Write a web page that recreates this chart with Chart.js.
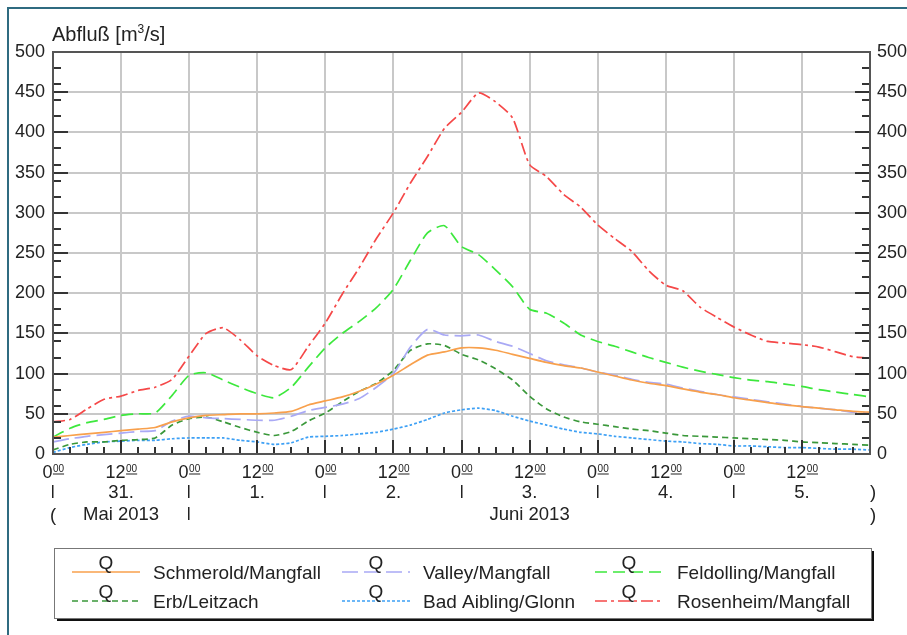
<!DOCTYPE html>
<html>
<head>
<meta charset="utf-8">
<title>Abfluss Mangfall Juni 2013</title>
<script src="https://cdn.jsdelivr.net/npm/chart.js@4.4.0/dist/chart.umd.min.js"></script>
<style>
  html, body { margin: 0; padding: 0; background: #fff; }
  canvas { display: block; }
</style>
</head>
<body>
<canvas id="flowChart" width="907" height="635"></canvas>
<script>
// hours since 31.05.2013 0:00, every 3 hours
const hours = [0,3,6,9,12,15,18,21,24,27,30,33,36,39,42,45,48,51,54,57,60,63,66,69,72,75,78,81,84,87,90,93,96,99,102,105,108,111,114,117,120,123,126,129,132,135,138,141,144];

const schmerold = [21,23,25,27,29,31,33,40,45,48,49,50,50,51,53,61,66,71,78,87,98,111,123,127,132,132,129,124,119,114,110,107,102,97,92,88,85,81,77,74,70,67,64,61,59,57,55,53,52];
const valley = [15,19,22,24,26,28,29,41,47,45,44,43,42,42,47,54,58,62,69,83,100,133,155,148,147,148,140,134,125,116,111,107,102,98,93,89,87,82,78,74,71,68,65,62,59,57,55,52,51];
const feldolling = [21,32,39,43,48,50,51,73,98,101,92,83,75,70,83,108,132,150,165,182,205,241,275,284,258,248,229,208,180,175,163,148,140,134,127,120,114,108,103,99,95,92,90,87,84,80,77,74,71];
const erb = [5,12,15,15,17,18,20,36,44,46,40,33,27,23,28,41,51,65,78,88,104,129,137,135,124,117,106,92,72,56,46,40,37,34,31,29,26,23,22,21,20,19,18,17,15,14,13,12,11];
const badAibling = [2,8,12,15,16,17,17,19,20,20,20,17,15,12,14,21,22,23,25,27,31,36,43,51,55,57,54,47,41,36,31,27,25,22,20,18,16,15,13,12,10,10,9,8,8,7,6,6,5];
const rosenheim = [40,43,56,68,72,79,83,93,122,150,157,142,122,110,105,134,163,199,232,268,300,337,370,405,425,449,438,418,360,345,323,307,285,268,252,228,210,203,183,170,158,148,140,138,136,133,127,121,119];

const seriesNames = ['Schmerold/Mangfall', 'Valley/Mangfall', 'Feldolling/Mangfall', 'Erb/Leitzach', 'Bad Aibling/Glonn', 'Rosenheim/Mangfall'];

// x axis text rows
const hourTicks = [0, 12, 24, 36, 48, 60, 72, 84, 96, 108, 120, 132];
const hourLabels = ['0', '12', '0', '12', '0', '12', '0', '12', '0', '12', '0', '12'];
const dayTicks = [12, 36, 60, 84, 108, 132];
const dayLabels = ['31.', '1.', '2.', '3.', '4.', '5.'];
const monthLabels = ['Mai 2013', 'Juni 2013'];
const monthSpans = [[0, 24], [24, 144]];

const FONT = '"Liberation Sans", Arial, sans-serif';

function toPoints(values) {
    return values.map((v, i) => ({ x: hours[i], y: v }));
}

function makeSet(label, values, color, dash) {
    return {
        label: label,
        data: toPoints(values),
        borderColor: color,
        borderWidth: 1.7,
        borderDash: dash,
        pointRadius: 0,
        fill: false,
        tension: 0.2
    };
}

const datasets = [
    makeSet(seriesNames[0], schmerold, '#f8a04c', []),
    makeSet(seriesNames[1], valley, '#a9a9f5', [16, 6]),
    makeSet(seriesNames[2], feldolling, '#3de83d', [12, 6]),
    makeSet(seriesNames[3], erb, '#3a983a', [6, 4]),
    makeSet(seriesNames[4], badAibling, '#3da0f5', [3, 2]),
    makeSet(seriesNames[5], rosenheim, '#f54848', [12, 4, 3, 4])
];

// ticks, axis text, title, legend and frame
const decorPlugin = {
    id: 'decor',
    afterDraw(chart) {
        const ctx = chart.ctx;
        const xs = chart.scales.x;
        const ys = chart.scales.y;
        const area = chart.chartArea;
        ctx.save();

        // inward tick marks: x every 3 h, y every 20 plus the 50 steps
        ctx.strokeStyle = '#333';
        ctx.lineWidth = 2;
        ctx.beginPath();
        for (let h = 0; h <= 144; h += 3) {
            const px = Math.round(xs.getPixelForValue(h));
            const len = h % 12 === 0 ? 14 : 7;
            ctx.moveTo(px, area.bottom);
            ctx.lineTo(px, area.bottom - len);
        }
        for (let v = 0; v <= 500; v += 10) {
            if (v % 20 !== 0 && v % 50 !== 0) continue;
            const py = Math.round(ys.getPixelForValue(v));
            const len = v % 50 === 0 ? 15 : 8;
            ctx.moveTo(area.left, py);
            ctx.lineTo(area.left + len, py);
            ctx.moveTo(area.right, py);
            ctx.lineTo(area.right - len, py);
        }
        ctx.stroke();

        // plot border
        ctx.strokeStyle = '#555';
        ctx.lineWidth = 2;
        ctx.strokeRect(area.left, area.top, area.right - area.left, area.bottom - area.top);

        ctx.fillStyle = '#222';
        ctx.textBaseline = 'alphabetic';

        // hour labels with underlined superscript 00
        hourTicks.forEach((h, i) => {
            const px = xs.getPixelForValue(h);
            ctx.font = '18px ' + FONT;
            const mw = ctx.measureText(hourLabels[i]).width;
            ctx.font = '10px ' + FONT;
            const sw = ctx.measureText('00').width;
            const x0 = px - (mw + sw) / 2;
            ctx.font = '18px ' + FONT;
            ctx.textAlign = 'left';
            ctx.fillText(hourLabels[i], x0, 478);
            ctx.font = '10px ' + FONT;
            ctx.fillText('00', x0 + mw + 0.5, 472);
            ctx.fillRect(x0 + mw + 0.5, 473.5, sw, 1);
        });

        // day row
        ctx.font = '18.5px ' + FONT;
        ctx.textAlign = 'center';
        dayTicks.forEach((h, i) => {
            ctx.fillText(dayLabels[i], xs.getPixelForValue(h), 498);
        });
        for (let h = 0; h <= 120; h += 24) {
            ctx.fillRect(Math.round(xs.getPixelForValue(h)) - 1, 485, 1.5, 13);
        }
        ctx.fillText(')', area.right + 3, 498);

        // month row
        monthSpans.forEach((s, i) => {
            const mid = (xs.getPixelForValue(s[0]) + xs.getPixelForValue(s[1])) / 2;
            ctx.fillText(monthLabels[i], mid, 520);
        });
        ctx.fillText('(', area.left, 521);
        ctx.fillRect(Math.round(xs.getPixelForValue(24)) - 1, 507, 1.5, 13);
        ctx.fillText(')', area.right + 3, 521);

        // axis title
        ctx.textAlign = 'left';
        ctx.font = '20px ' + FONT;
        let tx = 52;
        ctx.fillText('Abfluß [m', tx, 41);
        tx += ctx.measureText('Abfluß [m').width;
        ctx.font = '12px ' + FONT;
        ctx.fillText('3', tx, 33);
        tx += ctx.measureText('3').width;
        ctx.font = '20px ' + FONT;
        ctx.fillText('/s]', tx, 41);

        // legend box with shadow
        const lx = 54, ly = 548, lw = 817, lh = 70;
        ctx.fillStyle = '#111';
        ctx.fillRect(lx + 3, ly + 3, lw, lh);
        ctx.fillStyle = '#fff';
        ctx.fillRect(lx, ly, lw, lh);
        ctx.strokeStyle = '#777';
        ctx.lineWidth = 1;
        ctx.strokeRect(lx + 0.5, ly + 0.5, lw, lh);

        const colSample = [72, 342, 595];
        const colText = [153, 423, 677];
        const rowY = [572, 601];
        chart.data.datasets.forEach((ds, i) => {
            const col = i % 3;
            const row = Math.floor(i / 3);
            const y = rowY[row];
            ctx.strokeStyle = ds.borderColor;
            ctx.lineWidth = 1.7;
            ctx.setLineDash(ds.borderDash);
            ctx.beginPath();
            ctx.moveTo(colSample[col], y);
            ctx.lineTo(colSample[col] + 68, y);
            ctx.stroke();
            ctx.setLineDash([]);
            ctx.fillStyle = '#222';
            ctx.font = '19px ' + FONT;
            ctx.textAlign = 'center';
            ctx.fillText('Q', colSample[col] + 34, y - 3);
            ctx.textAlign = 'left';
            ctx.fillText(ds.label, colText[col], y + 7);
        });

        // outer frame
        ctx.strokeStyle = '#2f6b80';
        ctx.lineWidth = 2;
        ctx.beginPath();
        ctx.moveTo(8, 635);
        ctx.lineTo(8, 8);
        ctx.lineTo(907, 8);
        ctx.stroke();

        ctx.restore();
    }
};

new Chart(document.getElementById('flowChart'), {
    type: 'line',
    data: { datasets: datasets },
    options: {
        responsive: false,
        animation: false,
        devicePixelRatio: 1,
        layout: { padding: { top: 52, left: 0, right: 0, bottom: 0 } },
        plugins: {
            legend: { display: false },
            tooltip: { enabled: false }
        },
        scales: {
            x: {
                type: 'linear',
                min: 0,
                max: 144,
                ticks: { display: false, stepSize: 12 },
                grid: { color: '#c8c8c8', lineWidth: 2, drawTicks: false },
                border: { display: false },
                afterFit(scale) { scale.height = 181; }
            },
            y: {
                position: 'left',
                min: 0,
                max: 500,
                ticks: { stepSize: 50, padding: 8, color: '#222', font: { size: 18, family: FONT } },
                grid: { color: '#c8c8c8', lineWidth: 2, drawTicks: false },
                border: { display: false },
                afterFit(scale) { scale.width = 53; }
            },
            y2: {
                position: 'right',
                min: 0,
                max: 500,
                ticks: { stepSize: 50, padding: 7, color: '#222', font: { size: 18, family: FONT } },
                grid: { drawOnChartArea: false, drawTicks: false },
                border: { display: false },
                afterFit(scale) { scale.width = 37; }
            }
        }
    },
    plugins: [decorPlugin]
});
</script>
</body>
</html>
